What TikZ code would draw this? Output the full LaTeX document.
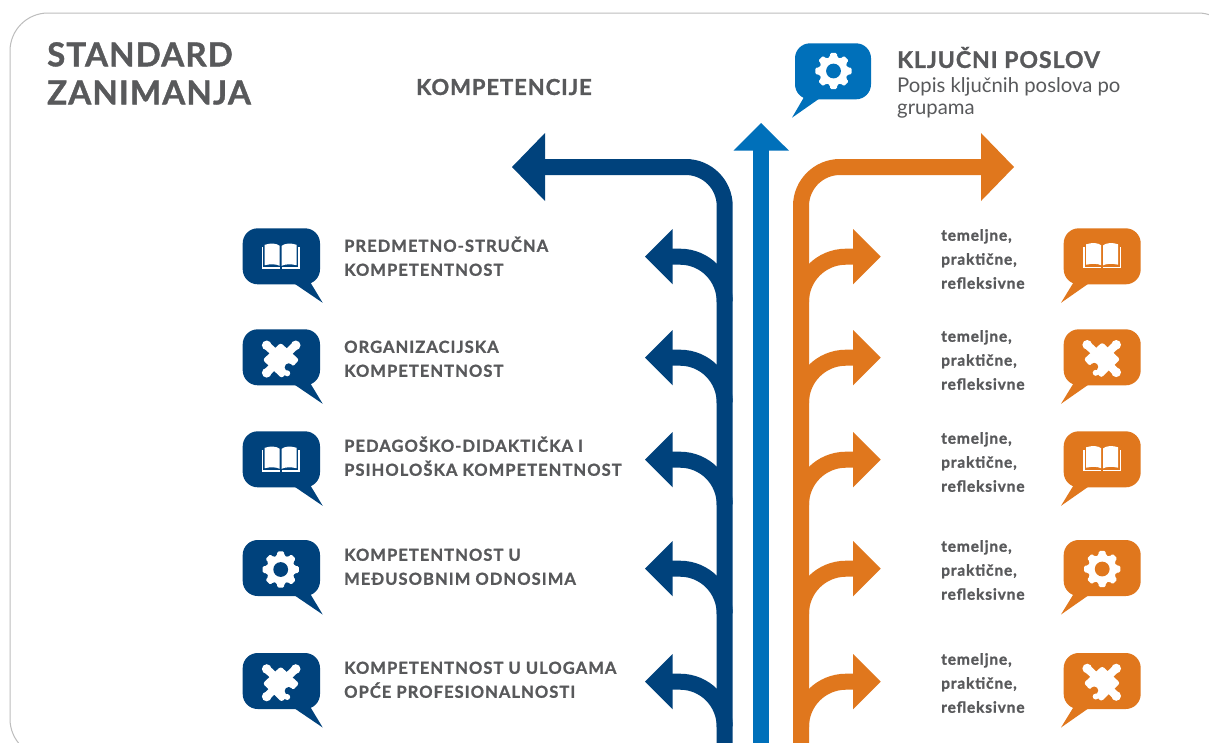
\documentclass[tikz,border=0pt]{standalone}
\usepackage{fontspec}
\setmainfont{Lato}
\newfontfamily\leftfont[LetterSpace=6.5,BoldFeatures={FakeBold=1.2}]{Lato}
\newfontfamily\rightfont[LetterSpace=5.5,BoldFeatures={FakeBold=1.2}]{Lato}
\newfontfamily\titlefont[LetterSpace=3.5,BoldFeatures={FakeBold=1.2}]{Lato}
\newfontfamily\headfont[LetterSpace=4.3,BoldFeatures={FakeBold=1.2}]{Lato}
\definecolor{navy}{HTML}{00427C}
\definecolor{midblue}{HTML}{0070BA}
\definecolor{amber}{HTML}{E0771D}
\definecolor{ink}{HTML}{58595B}
\definecolor{framegray}{HTML}{BDBDBD}
\tikzset{
  band/.style={line width=16pt,line cap=butt},
  leftlabel/.style={anchor=north west,inner sep=0pt,align=left,text=ink,font=\leftfont\bfseries\fontsize{16.5}{24}\selectfont},
  rightlabel/.style={anchor=north west,inner sep=0pt,align=left,text=ink,font=\rightfont\bfseries\fontsize{15.5}{24}\selectfont},
}
% icon drawn around the origin of a scope; #1 = colour of the bubble
\newcommand{\gearicon}[1]{%
  \fill[white,rounded corners=1.5pt]
    \foreach \a in {0,45,...,315}{
      \ifnum\a=0 (\a-11:18.5) \else -- (\a-11:18.5) \fi
      -- (\a+11:18.5) -- (\a+14:14.3) -- (\a+31:14.3)
    } -- cycle;
  \fill[#1] (0,0) circle (7.4);
}
\newcommand{\bookicon}[1]{%
  \fill[white] (-19,-10.5) rectangle (-17.6,10.5);
  \fill[white] (17.6,-10.5) rectangle (19,10.5);
  \fill[white] (-19,9.2) rectangle (-1,10.8);
  \fill[white] (1,9.2) rectangle (19,10.8);
  \fill[white] (-16,-13) .. controls (-10,-15) and (-4,-14.5) .. (-1,-12) -- (-1,8) .. controls (-4,6.3) and (-10,6) .. (-16,7.4) -- cycle;
  \fill[white] (16,-13) .. controls (10,-15) and (4,-14.5) .. (1,-12) -- (1,8) .. controls (4,6.3) and (10,6) .. (16,7.4) -- cycle;
}
\newcommand{\puzzleicon}[1]{%
  \fill[white,rounded corners=2.5pt] (0,-16) -- (18.5,1) -- (1,19.5) -- (-18,1) -- cycle;
  \fill[white] (-14,-13.5) circle (4.8) (15,-13.5) circle (4.8) (-14,14) circle (4.8);
  \draw[white,line width=8pt] (-14,-13.5) -- (-6,-6);
  \draw[white,line width=8pt] (15,-13.5) -- (7,-6);
  \draw[white,line width=8pt] (-14,14) -- (-6,6);
  \fill[#1] (8,8.5) circle (4);
  \fill[#1] (11,6.5) -- (20,7) -- (20,20) -- (7,20) -- (9,13) -- cycle;
  \fill[white] (6.5,14.5) circle (3);
}
% left bubble: tail to the lower right, #1 colour, #2 top edge, #3 icon macro
\newcommand{\bubbleL}[3]{%
  \begin{scope}[shift={(242.7,#2)}]
    \fill[#1,rounded corners=15pt] (0,0) rectangle (77.3,56);
    \fill[#1] (52,55.5) -- (80,74.5) -- (67,53) -- cycle;
    \begin{scope}[shift={(38,29.5)}] #3{#1} \end{scope}
  \end{scope}}
% right bubble: tail to the lower left
\newcommand{\bubbleR}[5]{%
  \begin{scope}[shift={(#1,#2)}]
    \fill[#3,rounded corners=15pt] (0,0) rectangle (77,56);
    \fill[#3] (24.5,55.5) -- (-2.7,74.5) -- (10.5,53) -- cycle;
    \begin{scope}[shift={(38.5,29)},xscale=#5] #4{#3} \end{scope}
  \end{scope}}
% branch arrows, #1 = y of the arrow axis
\newcommand{\branchL}[1]{%
  \draw[navy,band] (671,#1) -- (680,#1) .. controls (704.85,#1) and (724.7,#1+20.15) .. (724.7,#1+45);
  \fill[navy] (645,#1) -- (672.7,#1-27.7) -- (672.7,#1+27.7) -- cycle;}
\newcommand{\branchR}[1]{%
  \draw[amber,band] (855,#1) -- (846,#1) .. controls (821.15,#1) and (801,#1+20.15) .. (801,#1+45);
  \fill[amber] (880.7,#1) -- (853,#1-27.7) -- (853,#1+27.7) -- cycle;}
\begin{document}
\begin{tikzpicture}[x=1pt,y=-1pt]
\useasboundingbox (0,0) rectangle (1209,742);
\clip (0,0) rectangle (1209,742);
\fill[white] (0,0) rectangle (1209,742);
\draw[framegray,line width=1pt,rounded corners=38pt] (10,13) rectangle (1236,757);

% titles
\node[anchor=north west,inner sep=0pt,align=left,text=ink,font=\titlefont\bfseries\fontsize{33}{38}\selectfont] (title) at (47,42) {STANDARD\\ZANIMANJA};
\node[anchor=west,inner sep=0pt,text=ink,font=\headfont\bfseries\fontsize{22}{24}\selectfont] (komp) at (416,87) {KOMPETENCIJE};
\node[anchor=west,inner sep=0pt,text=ink,font=\headfont\bfseries\fontsize{23}{24}\selectfont] (kljuc) at (897,57.5) {KLJUČNI POSLOV};
\node[anchor=north west,inner sep=0pt,align=left,text=ink,font=\fontsize{20.3}{22}\selectfont] (popis) at (897,77) {Popis ključnih poslova po\\grupama};

% top bubble
\begin{scope}[shift={(795,43.3)}]
  \fill[midblue,rounded corners=15pt] (0,0) rectangle (76,56);
  \fill[midblue] (24,55.5) -- (-3,74.4) -- (9.5,53) -- cycle;
  \begin{scope}[shift={(38.5,27.7)}] \gearicon{midblue} \end{scope}
\end{scope}

% trunks
\draw[navy,band,rounded corners=39pt] (544,167) -- (724.7,167) -- (724.7,750);
\fill[navy] (512,167) -- (545,133) -- (545,201) -- cycle;
\draw[amber,band,rounded corners=39pt] (982,167) -- (801,167) -- (801,750);
\fill[amber] (1014,167) -- (981,133) -- (981,201) -- cycle;
\draw[midblue,band] (761,750) -- (761,150);
\fill[midblue] (761,123) -- (789,150.7) -- (733.5,150.7) -- cycle;

% branches
\foreach \yy in {256.7,357.7,459.7,568.7,681.7}{
  \branchL{\yy}
  \branchR{\yy}
}

% left bubbles
\bubbleL{navy}{228.3}{\bookicon}
\bubbleL{navy}{329.3}{\puzzleicon}
\bubbleL{navy}{431.3}{\bookicon}
\bubbleL{navy}{540}{\gearicon}
\bubbleL{navy}{653}{\puzzleicon}

% right bubbles
\bubbleR{1063.7}{228.3}{amber}{\bookicon}{1}
\bubbleR{1063.7}{329.3}{amber}{\puzzleicon}{-1}
\bubbleR{1063.7}{431.3}{amber}{\bookicon}{1}
\bubbleR{1063.7}{540}{amber}{\gearicon}{1}
\bubbleR{1063.7}{653}{amber}{\puzzleicon}{-1}

% left labels
\node[leftlabel] (l1) at (344,236.5) {PREDMETNO-STRUČNA\\KOMPETENTNOST};
\node[leftlabel] (l2) at (344,340.5) {ORGANIZACIJSKA\\KOMPETENTNOST};
\node[leftlabel] (l3) at (344,436.5) {PEDAGOŠKO-DIDAKTIČKA I\\PSIHOLOŠKA KOMPETENTNOST};
\node[leftlabel] (l4) at (344,548.5) {KOMPETENTNOST U\\MEĐUSOBNIM ODNOSIMA};
\node[leftlabel] (l5) at (344,661.5) {KOMPETENTNOST U ULOGAMA\\OPĆE PROFESIONALNOSTI};

% right labels
\node[rightlabel] (r1) at (941,229) {temeljne,\\praktične,\\refleksivne};
\node[rightlabel] (r2) at (941,330) {temeljne,\\praktične,\\refleksivne};
\node[rightlabel] (r3) at (941,432) {temeljne,\\praktične,\\refleksivne};
\node[rightlabel] (r4) at (941,540) {temeljne,\\praktične,\\refleksivne};
\node[rightlabel] (r5) at (941,653) {temeljne,\\praktične,\\refleksivne};
\end{tikzpicture}
\end{document}
